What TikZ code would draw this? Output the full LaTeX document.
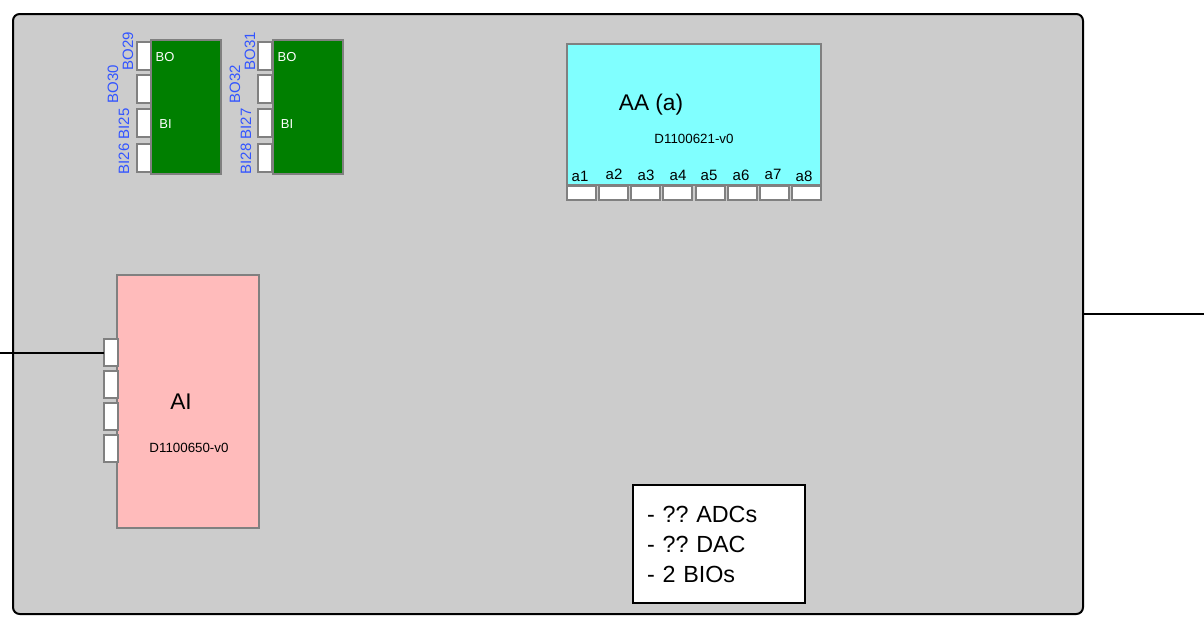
\documentclass[tikz,border=0pt]{standalone}
\usepackage{xcolor}
\usepackage{fontspec}
\setmainfont{Liberation Sans}
\frenchspacing
\definecolor{framegray}{HTML}{CCCCCC}
\definecolor{edgegray}{HTML}{808080}
\definecolor{bioblue}{HTML}{3355FF}
\definecolor{biogreen}{HTML}{007F00}
\definecolor{aaback}{HTML}{80FFFF}
\definecolor{aiback}{HTML}{FFBBBB}
\tikzset{
  modbox/.style = {draw=edgegray,line width=1.5pt,fill=#1,inner sep=0pt,outer sep=0pt},
  portbox/.style = {draw=edgegray,line width=1.5pt,fill=white,inner sep=0pt,outer sep=0pt},
  wirepath/.style = {draw=black,line width=1.5pt},
  biglabel/.style = {font=\fontsize{17}{20}\selectfont},
  partlabel/.style = {font=\fontsize{10}{12}\selectfont},
  chanlabel/.style = {font=\fontsize{11.25}{13}\selectfont},
  sidelabel/.style = {font=\fontsize{11.25}{13}\selectfont,text=bioblue,rotate=90},
  biolabel/.style = {font=\fontsize{9.75}{12}\selectfont,text=white}
}
\NewDocumentCommand{\fbiomod}{m m m}{%
\node[modbox=biogreen,minimum width=52.5pt,minimum height=100.5pt] (#1) at (#2,107) {};
\foreach \py/\pn in {56/1,89/2,123/3,158/4}{
  \node[portbox,minimum width=10.5pt,minimum height=21pt] (#1-p\pn) at (#3,\py) {};
}
}
\begin{document}
\begin{tikzpicture}[x=0.75pt,y=-0.75pt]
\useasboundingbox (0,0) rectangle (1204,643);
\node[draw=black,line width=1.5pt,fill=framegray,rounded corners=5pt,inner sep=0pt,outer sep=0pt,
  minimum width=802.5pt,minimum height=450pt] (frame) at (548,314) {};

% binary i/o
\fbiomod{bioa}{186}{144}
\fbiomod{biob}{308}{265}
\node[biolabel] (boa) at (165,57.5) {BO};
\node[biolabel] (bia) at (165.5,124) {BI};
\node[biolabel] (bob) at (287,57.5) {BO};
\node[biolabel] (bib) at (287,124) {BI};
\node[sidelabel] (bo29) at (128,51) {BO29};
\node[sidelabel] (bo30) at (113,84) {BO30};
\node[sidelabel] (bi25) at (124,124) {BI25};
\node[sidelabel] (bi26) at (124,159) {BI26};
\node[sidelabel] (bo31) at (250,51) {BO31};
\node[sidelabel] (bo32) at (235,84) {BO32};
\node[sidelabel] (bi27) at (246,124) {BI27};
\node[sidelabel] (bi28) at (246,159) {BI28};

% anti-aliasing
\node[modbox=aaback,minimum width=190.5pt,minimum height=105.75pt] (aa) at (694,114.5) {};
\foreach \px/\pn in {581.5/1,613.5/2,645.5/3,677.5/4,710/5,742.5/6,774.5/7,806.5/8}{
  \node[portbox,minimum width=21.75pt,minimum height=10.5pt] (aa-p\pn) at (\px,192.5) {};
}
\foreach \lx/\ly/\pn in {580/176/1,614/174/2,646/175/3,678/175/4,709/175/5,741/175/6,773/174/7,804/176/8}{
  \node[chanlabel] (aa-l\pn) at (\lx,\ly) {a\pn};
}
\node[biglabel] (aaname) at (651,104.5) {AA (a)};
\node[partlabel] (aapart) at (694,139) {D1100621-v0};

% analog input
\node[modbox=aiback,minimum width=106.5pt,minimum height=189.75pt] (ai) at (187.5,401.5) {};
\foreach \py/\pn in {352.5/1,384.5/2,416.5/3,448.5/4}{
  \node[portbox,minimum width=10.5pt,minimum height=20.25pt] (ai-p\pn) at (111,\py) {};
}
\node[biglabel] (ainame) at (181,402) {AI};
\node[partlabel] (aipart) at (189,447.5) {D1100650-v0};

% notes
\node[draw=black,line width=1.5pt,fill=white,inner xsep=10.5pt,inner ysep=0pt,outer sep=0pt,
  text width=108pt,minimum height=88.5pt,align=left,
  font=\fontsize{17.5}{22.5}\selectfont] (notes) at (719,544) {\rule{0pt}{13pt}- ?? ADCs\\- ?? DAC\\- 2 BIOs};

% wires
\coordinate (wirein) at (0,352.5);
\coordinate (wireout) at (1204,314);
\draw[wirepath] (wirein) -- (ai-p1.west);
\draw[wirepath] (frame.east |- wireout) -- (wireout);
\end{tikzpicture}
\end{document}
